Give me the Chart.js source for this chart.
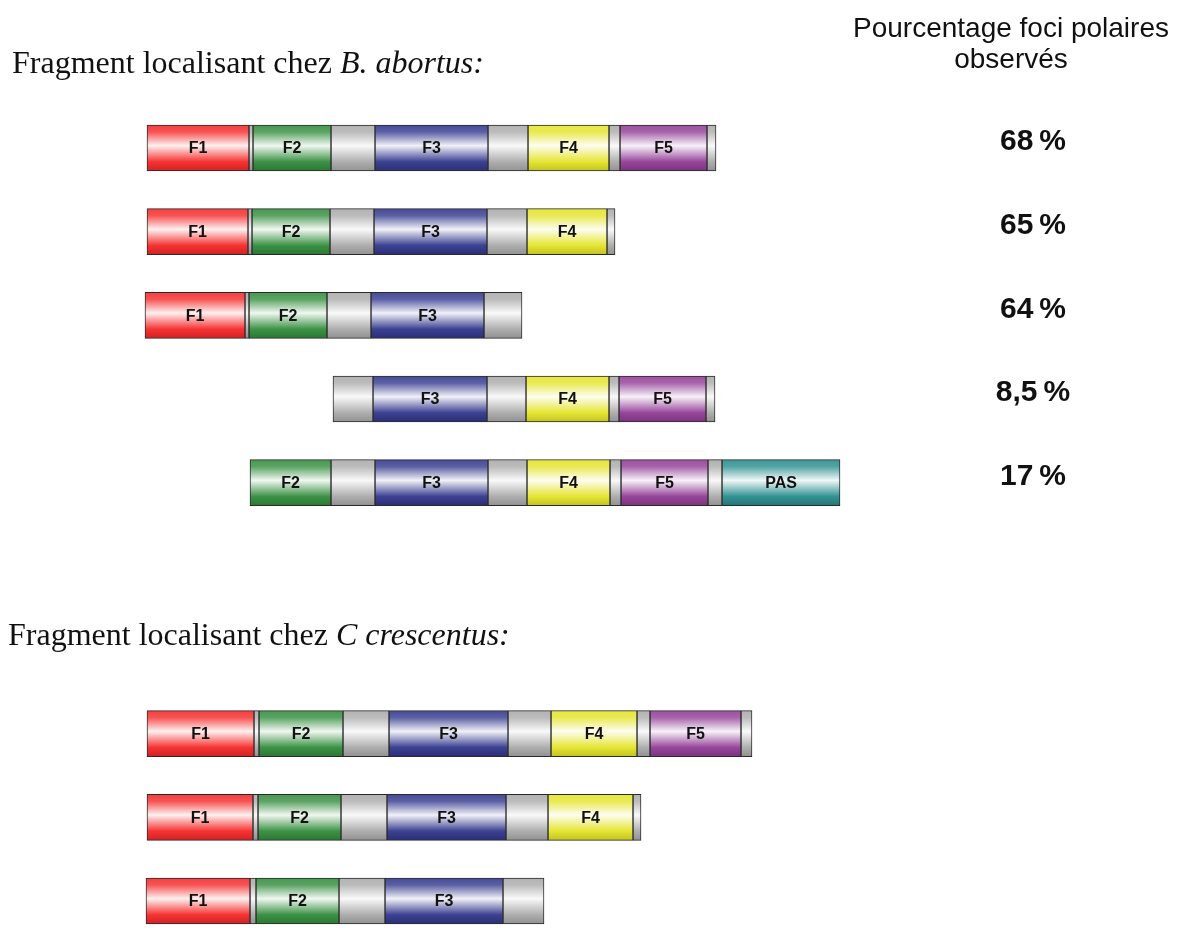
<!DOCTYPE html>
<html>
<head>
<meta charset="utf-8">
<script src="https://cdn.jsdelivr.net/npm/chart.js@4/dist/chart.umd.min.js"></script>
<style>
  html, body { margin: 0; padding: 0; background: #ffffff; }
  #wrap { width: 1186px; height: 933px; position: relative; }
</style>
</head>
<body>
<div id="wrap"><canvas id="fragChart"></canvas></div>
<script>
// rows: 5 constructs in B. abortus, 2 empty rows for the gap, 3 in C. crescentus
const rowLabels = ['Ba1', 'Ba2', 'Ba3', 'Ba4', 'Ba5', '', '', 'Cc1', 'Cc2', 'Cc3'];
const percents = ['68\u2009%', '65\u2009%', '64\u2009%', '8,5\u2009%', '17\u2009%', null, null, null, null, null];

// fragment extents [start, end] per row (null = absent)
const F1  = [[147, 249], [147, 248], [145, 245], null, null, null, null, [147, 254], [147, 253], [146, 250]];
const L1  = [[249, 253], [248, 252], [245, 249], null, null, null, null, [254, 259], [253, 258], [250, 256]];
const F2  = [[253, 331], [252, 330], [249, 327], null, [250, 331], null, null, [259, 343], [258, 341], [256, 339]];
const L2  = [[331, 375], [330, 374], [327, 371], [333, 373], [331, 375], null, null, [343, 389], [341, 387], [339, 385]];
const F3  = [[375, 488], [374, 487], [371, 484], [373, 487], [375, 488], null, null, [389, 508], [387, 506], [385, 503]];
const L3  = [[488, 528], [487, 527], [484, 522], [487, 526], [488, 527], null, null, [508, 551], [506, 548], [503, 544]];
const F4  = [[528, 609], [527, 607], null, [526, 609], [527, 610], null, null, [551, 637], [548, 633], null];
const L4  = [[609, 620], [607, 615], null, [609, 619], [610, 621], null, null, [637, 650], [633, 641], null];
const F5  = [[620, 707], null, null, [619, 706], [621, 708], null, null, [650, 741], null, null];
const L5  = [[707, 716], null, null, [706, 715], [708, 722], null, null, [741, 752], null, null];
const PAS = [null, null, null, null, [722, 840], null, null, null, null, null];

const slots = [
  { name: 'F1', data: F1, color: [245, 40, 40] },
  { name: '', data: L1, color: [170, 170, 170] },
  { name: 'F2', data: F2, color: [50, 140, 60] },
  { name: '', data: L2, color: [170, 170, 170] },
  { name: 'F3', data: F3, color: [50, 55, 140] },
  { name: '', data: L3, color: [170, 170, 170] },
  { name: 'F4', data: F4, color: [228, 228, 40] },
  { name: '', data: L4, color: [170, 170, 170] },
  { name: 'F5', data: F5, color: [145, 60, 150] },
  { name: '', data: L5, color: [170, 170, 170] },
  { name: 'PAS', data: PAS, color: [40, 140, 140] }
];

const BAR_H = 46;

function rgb(c, k) {
  // k > 0 lighten toward white, k < 0 darken
  const f = k >= 0 ? (v) => Math.round(v + (255 - v) * k) : (v) => Math.round(v * (1 + k));
  return 'rgb(' + f(c[0]) + ',' + f(c[1]) + ',' + f(c[2]) + ')';
}

function tubeFill(color) {
  return function(context) {
    const chart = context.chart;
    const yScale = chart.scales.y;
    if (!chart.chartArea || !yScale) return rgb(color, 0);
    const cy = yScale.getPixelForValue(context.dataIndex);
    const g = chart.ctx.createLinearGradient(0, cy - BAR_H / 2, 0, cy + BAR_H / 2);
    g.addColorStop(0, rgb(color, 0.1));
    g.addColorStop(0.15, rgb(color, 0.2));
    g.addColorStop(0.45, rgb(color, 0.93));
    g.addColorStop(0.8, rgb(color, 0.05));
    g.addColorStop(1, rgb(color, -0.15));
    return g;
  };
}

// text: headings, fragment names, percentages
const textPlugin = {
  id: 'textPlugin',
  afterDatasetsDraw(chart) {
    const ctx = chart.ctx;
    const yScale = chart.scales.y;
    ctx.save();
    ctx.fillStyle = '#111';

    // fragment names inside segments
    ctx.font = 'bold 16px "Liberation Sans", Arial, sans-serif';
    ctx.textAlign = 'center';
    ctx.textBaseline = 'middle';
    chart.data.datasets.forEach((ds, i) => {
      if (!ds.segName) return;
      chart.getDatasetMeta(i).data.forEach((el, j) => {
        if (!ds.data[j]) return;
        ctx.fillText(ds.segName, (el.x + el.base) / 2, el.y + 1);
      });
    });

    // percentages
    ctx.font = 'bold 30px "Liberation Sans", Arial, sans-serif';
    percents.forEach((p, i) => {
      if (!p) return;
      ctx.fillText(p, 1033, yScale.getPixelForValue(i) - 6);
    });

    // column header
    ctx.font = '28px "Liberation Sans", Arial, sans-serif';
    ctx.textBaseline = 'alphabetic';
    ctx.fillText('Pourcentage foci polaires', 1011, 37);
    ctx.fillText('observés', 1011, 68);

    // section headings
    ctx.textAlign = 'left';
    function heading(plain, ital, x, y) {
      ctx.font = '32px "Liberation Serif", "Times New Roman", serif';
      ctx.fillText(plain, x, y);
      const w = ctx.measureText(plain).width;
      ctx.font = 'italic 32px "Liberation Serif", "Times New Roman", serif';
      ctx.fillText(ital, x + w, y);
    }
    heading('Fragment localisant chez ', 'B. abortus:', 12, 73);
    heading('Fragment localisant chez ', 'C crescentus:', 8, 645);
    ctx.restore();
  }
};

new Chart(document.getElementById('fragChart').getContext('2d'), {
  type: 'bar',
  data: {
    labels: rowLabels,
    datasets: slots.map((s) => ({
      label: s.name || 'linker',
      segName: s.name,
      data: s.data,
      backgroundColor: tubeFill(s.color),
      borderColor: '#2a2a2a',
      borderWidth: 1,
      borderSkipped: false,
      barThickness: BAR_H,
      grouped: false,
      clip: false
    }))
  },
  options: {
    indexAxis: 'y',
    responsive: true,
    maintainAspectRatio: false,
    animation: false,
    layout: { padding: { top: 148, bottom: 32, left: 0, right: 0 } },
    plugins: {
      legend: { display: false },
      tooltip: { enabled: false }
    },
    scales: {
      x: { type: 'linear', min: 0, max: 1186, display: false },
      y: { display: false, offset: false }
    }
  },
  plugins: [textPlugin]
});
</script>
</body>
</html>
